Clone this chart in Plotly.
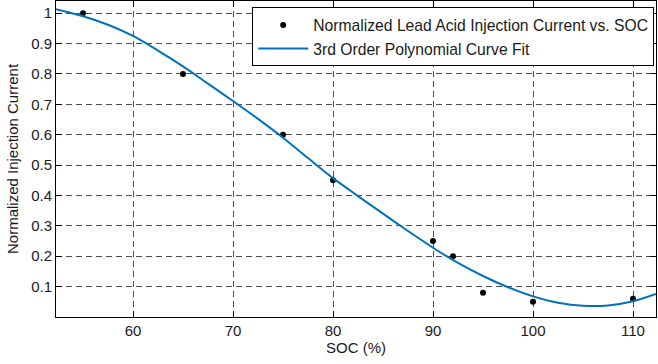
import plotly.graph_objects as go

# Measured data points
soc = [55, 65, 75, 80, 90, 92, 95, 100, 110]
current = [1.00, 0.80, 0.60, 0.45, 0.25, 0.20, 0.08, 0.05, 0.06]

# 3rd order polynomial fit curve
fit_soc = [52.3, 55, 57.5, 60, 62.5, 65, 67.5, 70, 72.5, 75, 77.5, 80, 82.5, 85,
           87.5, 90, 92.5, 95, 97.5, 100, 102.5, 105, 107.5, 110, 112.3]
fit_current = [1.013, 0.990, 0.962, 0.925, 0.877, 0.825, 0.768, 0.711, 0.652, 0.590,
               0.523, 0.457, 0.398, 0.340, 0.283, 0.228, 0.178, 0.135, 0.098, 0.068,
               0.047, 0.037, 0.038, 0.052, 0.076]

x_ticks = [60, 70, 80, 90, 100, 110]
y_ticks = [0.1, 0.2, 0.3, 0.4, 0.5, 0.6, 0.7, 0.8, 0.9, 1.0]
y_ticklabels = ["0.1", "0.2", "0.3", "0.4", "0.5", "0.6", "0.7", "0.8", "0.9", "1"]

FONT = "Liberation Sans, Arial, Helvetica, sans-serif"
TXT = "#1a1a1a"

fig = go.Figure()
fig.add_trace(go.Scatter(
    x=soc, y=current, mode="markers",
    marker=dict(color="black", size=6),
    name="Normalized Lead Acid Injection Current vs. SOC",
))
fig.add_trace(go.Scatter(
    x=fit_soc, y=fit_current, mode="lines",
    line=dict(color="#0072BD", width=2, shape="spline", smoothing=0.8),
    name="3rd Order Polynomial Curve Fit",
))

axis_common = dict(
    showline=True, linecolor="black", linewidth=1, mirror="ticks",
    ticks="inside", ticklen=6, tickcolor="black", tickwidth=1,
    showgrid=True, gridcolor="#4d4d4d", gridwidth=1, griddash="6px,4px",
    zeroline=False, automargin=False,
    tickfont=dict(family=FONT, size=15, color=TXT),
)

fig.update_xaxes(
    range=[52.3, 112.3], tickvals=x_ticks,
    title=dict(text="SOC (%)", font=dict(family=FONT, size=15, color=TXT), standoff=4),
    **axis_common,
)
fig.update_yaxes(
    range=[0, 1.04], tickvals=y_ticks, ticktext=y_ticklabels,
    title=dict(text="Normalized Injection Current", font=dict(family=FONT, size=15, color=TXT), standoff=8),
    **axis_common,
)

fig.update_layout(
    width=658, height=364,
    margin=dict(l=56, r=2, t=1, b=47, autoexpand=False),
    paper_bgcolor="white", plot_bgcolor="white",
    font=dict(family=FONT, size=15, color=TXT),
    showlegend=True,
    legend=dict(
        x=0.997, xanchor="right", y=0.98, yanchor="top",
        bgcolor="white", bordercolor="black", borderwidth=1,
        font=dict(family=FONT, size=15.7, color=TXT),
        itemwidth=50,
    ),
)

fig.write_html("out.html", config={"displayModeBar": False},
               post_script="document.body.style.margin='0';")
